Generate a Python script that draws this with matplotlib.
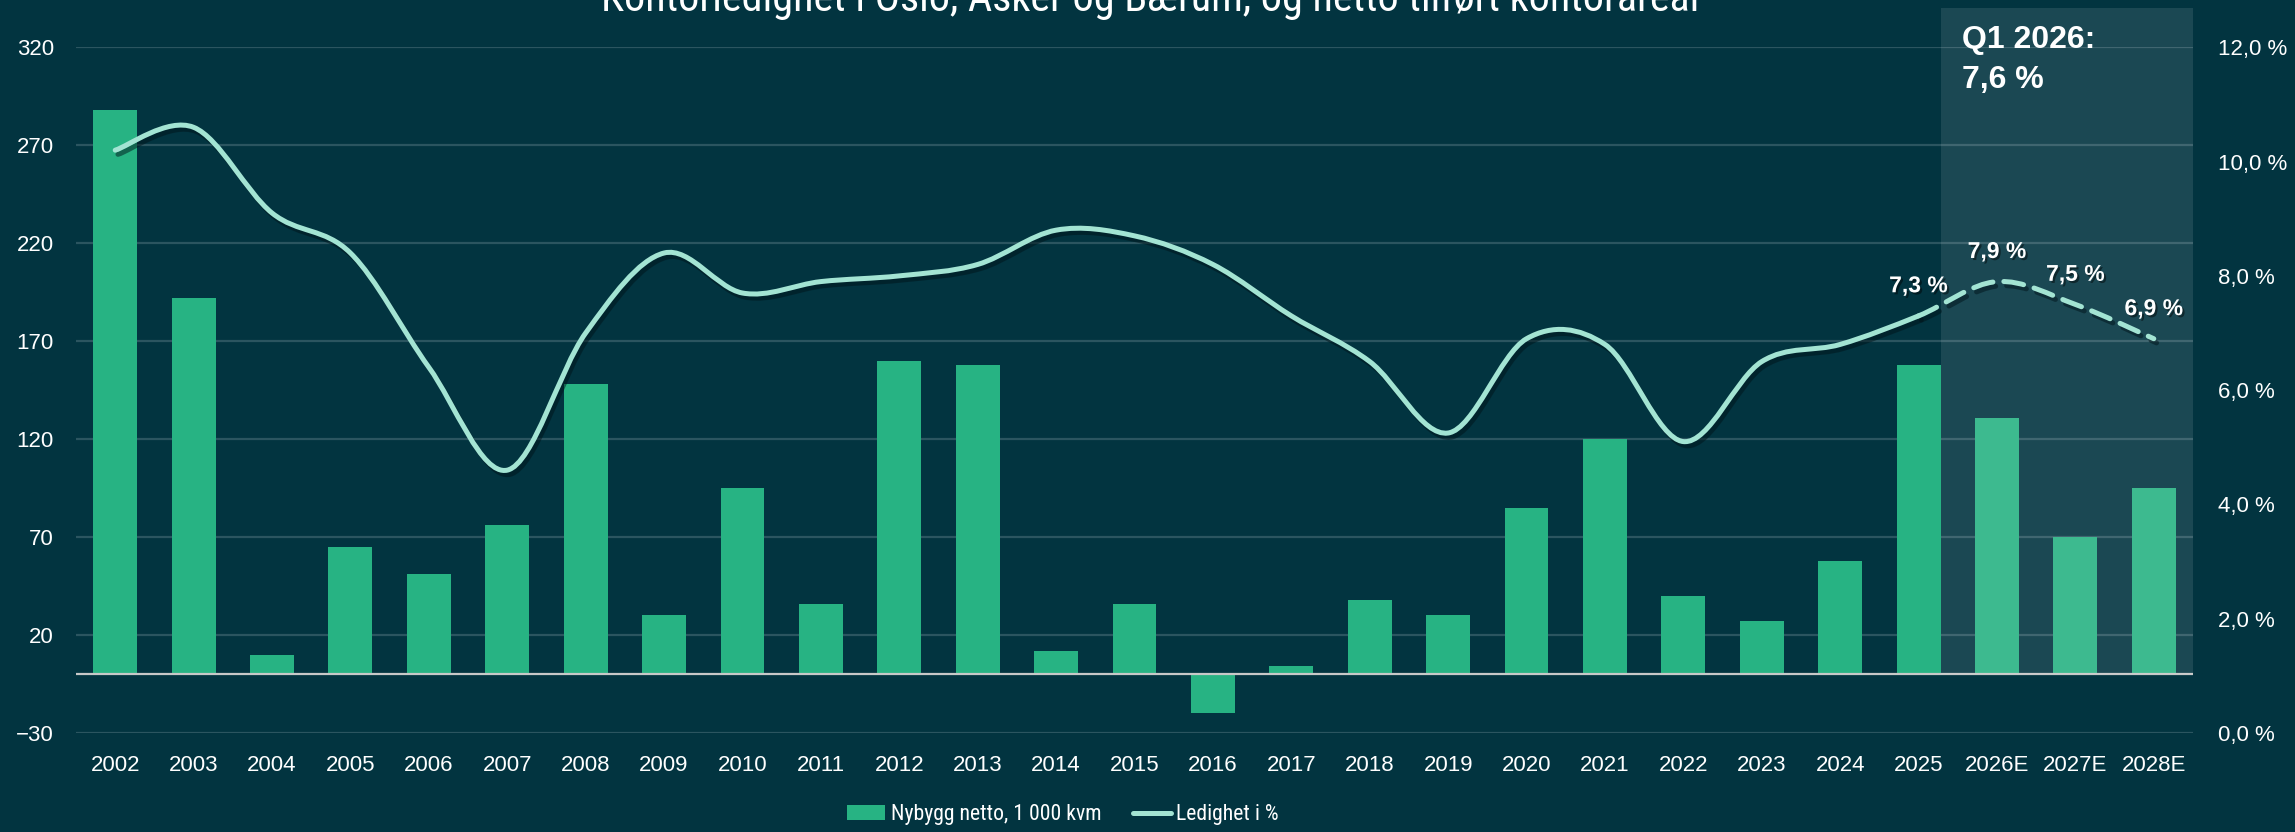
import numpy as np
import matplotlib
matplotlib.use("Agg")
import matplotlib.pyplot as plt
from matplotlib.path import Path
from matplotlib.patches import PathPatch, Rectangle, Patch
from matplotlib.lines import Line2D
from matplotlib import patheffects as pe
from matplotlib import font_manager as fm
import matplotlib.transforms as mtrans

# ---------------- data ----------------
categories = ["2002", "2003", "2004", "2005", "2006", "2007", "2008", "2009", "2010",
              "2011", "2012", "2013", "2014", "2015", "2016", "2017", "2018", "2019",
              "2020", "2021", "2022", "2023", "2024", "2025", "2026E", "2027E", "2028E"]
nybygg = [288, 192, 10, 65, 51, 76, 148, 30, 95,
          36, 160, 158, 12, 36, -20, 4, 38, 30,
          85, 120, 40, 27, 58, 158, 131, 70, 95]
ledighet = [10.2, 10.6, 9.1, 8.4, 6.4, 4.6, 7.0, 8.4, 7.7,
            7.9, 8.0, 8.2, 8.8, 8.7, 8.2, 7.3, 6.5, 5.25,
            6.9, 6.8, 5.1, 6.5, 6.8, 7.3, 7.9, 7.5, 6.9]
left_ticks = [-30, 20, 70, 120, 170, 220, 270, 320]
right_ticks = [0, 2, 4, 6, 8, 10, 12]
right_ticklabels = ["0,0 %", "2,0 %", "4,0 %", "6,0 %", "8,0 %", "10,0 %", "12,0 %"]
labelled = {"2025": "7,3 %", "2026E": "7,9 %", "2027E": "7,5 %", "2028E": "6,9 %"}
forecast_start = "2025"
title = "Kontorledighet i Oslo, Asker og Bærum, og netto tilført kontorareal"
q1_text = ["Q1 2026:", "7,6 %"]
legend_labels = ["Nybygg netto, 1 000 kvm", "Ledighet i %"]

# ---------------- style ----------------
BG = "#023440"
BAR = "#27B383"
LINE = "#A3E4D3"
GRID = "#2B5560"
TXT = "#FFFFFF"

names = {f.name for f in fm.fontManager.ttflist}
def pick(cands, default="DejaVu Sans"):
    for c in cands:
        if c in names:
            return c
    return default
REG = pick(["Liberation Sans", "Arial"])
NARROW = pick(["Liberation Sans Narrow", "Arial Narrow", "Roboto Condensed"], REG)

plt.rcParams["font.family"] = [REG, "DejaVu Sans"]

fig = plt.figure(figsize=(22.95, 8.32), dpi=100, facecolor=BG)
ax = fig.add_axes([76 / 2295, 1 - 733 / 832, (2193 - 76) / 2295, (733 - 47.3) / 832])
ax.set_facecolor(BG)
ax2 = ax.twinx()

x = np.arange(len(categories))
ax.bar(x, nybygg, width=0.56, color=BAR, zorder=3)
ax.set_xlim(-0.5, len(categories) - 0.5)
ax.set_ylim(-30, 320)
ax.set_yticks(left_ticks)
ax.set_xticks(x, categories)
ax.yaxis.grid(True, color=GRID, lw=1.6, zorder=0)
ax.set_axisbelow(True)
ax.axhline(0, color="#C8C8C8", lw=1.6, zorder=4)
for s in ax.spines.values():
    s.set_visible(False)
for s in ax2.spines.values():
    s.set_visible(False)
ax.tick_params(axis="y", length=0, pad=16, labelsize=16, labelcolor=TXT)
ax.tick_params(axis="x", length=0, pad=16, labelsize=16, labelcolor=TXT)

# forecast shading
fi = categories.index(forecast_start)
rect = Rectangle((fi + 0.29, 0), len(categories) - 0.5 - (fi + 0.29), 340,
                 transform=ax.transData, facecolor="white", alpha=0.1, lw=0,
                 zorder=5, clip_on=False)
ax.add_patch(rect)

# right axis: 0 % <-> -30, 12 % <-> 320
ax2.set_ylim(0, 12)
ax2.set_yticks(right_ticks, right_ticklabels)
ax2.tick_params(axis="y", length=0, pad=18, labelsize=16, labelcolor=TXT)

# smoothed line via cubic Bezier path
def seg_path(xs, ys, i0, i1):
    n = len(xs)
    verts = [(xs[i0], ys[i0])]
    codes = [Path.MOVETO]
    for i in range(i0, i1):
        a = max(i - 1, 0)
        b = min(i + 2, n - 1)
        c1 = (xs[i] + (xs[i + 1] - xs[a]) / 6, ys[i] + (ys[i + 1] - ys[a]) / 6)
        c2 = (xs[i + 1] - (xs[b] - xs[i]) / 6, ys[i + 1] - (ys[b] - ys[i]) / 6)
        verts += [c1, c2, (xs[i + 1], ys[i + 1])]
        codes += [Path.CURVE4] * 3
    return Path(verts, codes)

shadow = [pe.SimpleLineShadow(offset=(2, -3), shadow_color="#00141a", alpha=0.5), pe.Normal()]
solid = PathPatch(seg_path(x, ledighet, 0, fi), fill=False, edgecolor=LINE, lw=3.6,
                  capstyle="round", joinstyle="round", zorder=6)
solid.set_path_effects(shadow)
ax2.add_patch(solid)
dashed = PathPatch(seg_path(x, ledighet, fi, len(x) - 1), fill=False, edgecolor=LINE, lw=3.6,
                   linestyle=(0, (4, 2.2)), capstyle="round", zorder=6)
dashed.set_path_effects(shadow)
ax2.add_patch(dashed)

lab_fx = [pe.withSimplePatchShadow(offset=(1.5, -1.5), shadow_rgbFace="black", alpha=0.45)]
for cat, txt in labelled.items():
    i = categories.index(cat)
    ax2.annotate(txt, (x[i], ledighet[i]), xytext=(0, 17), textcoords="offset points",
                 ha="center", va="baseline", fontsize=16.5, fontweight="bold", color=TXT,
                 path_effects=lab_fx, zorder=7)

# Q1 annotation
fig.text(1962 / 2295, 1 - 48 / 832, q1_text[0], fontsize=23, fontweight="bold", color=TXT,
         ha="left", va="baseline")
fig.text(1962 / 2295, 1 - 88 / 832, q1_text[1], fontsize=23, fontweight="bold", color=TXT,
         ha="left", va="baseline")

# title (partly cut at the top, as in the reference)
fig.text(1150 / 2295, 1 - 11 / 832, title, fontsize=30.3, color=TXT, ha="center",
         va="baseline", family=[NARROW, "DejaVu Sans"])

# legend
handles = [Patch(facecolor=BAR, edgecolor="none"),
           Line2D([0], [0], color=LINE, lw=3.6, solid_capstyle="round")]
leg = fig.legend(handles, legend_labels, loc="center", bbox_to_anchor=(1063 / 2295, 0.021),
                 ncol=2, frameon=False, handlelength=1.75, handleheight=0.65,
                 handletextpad=0.25, columnspacing=1.45,
                 prop={"family": [NARROW, "DejaVu Sans"], "size": 15.7})
for t in leg.get_texts():
    t.set_color(TXT)

fig.savefig("out.png", dpi=100, facecolor=BG)
